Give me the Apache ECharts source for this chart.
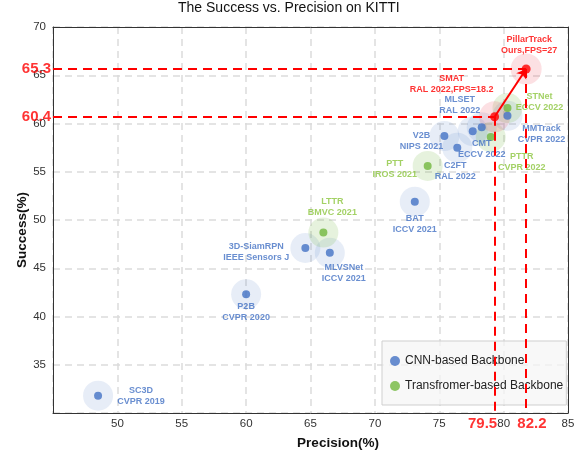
<!DOCTYPE html>
<html>
<head>
<meta charset="utf-8">
<script src="https://cdn.jsdelivr.net/npm/echarts@6/dist/echarts.min.js"></script>
<style>html,body{margin:0;padding:0;background:#fff}#c{width:578px;height:455px}</style>
</head>
<body>
<div id="c"></div>
<script>
// ---- data ----
const cnnNames = ['SC3D','P2B','3D-SiamRPN','MLVSNet','BAT','V2B','C2FT','CMT','MLSET','MMTrack'];
const cnnVenues = ['CVPR 2019','CVPR 2020','IEEE Sensors J','ICCV 2021','ICCV 2021','NIPS 2021','RAL 2022','ECCV 2022','RAL 2022','CVPR 2022'];
const cnnPrecision = [48.5, 60.0, 64.6, 66.5, 73.1, 75.4, 76.4, 77.6, 78.3, 80.3];
const cnnSuccess = [31.8, 42.3, 47.1, 46.6, 51.9, 58.7, 57.5, 59.2, 59.6, 60.8];

const trNames = ['LTTR','PTT','PTTR','STNet'];
const trVenues = ['BMVC 2021','IROS 2021','CVPR 2022','ECCV 2022'];
const trPrecision = [66.0, 74.1, 79.0, 80.3];
const trSuccess = [48.7, 55.6, 58.6, 61.6];

const oursNames = ['SMAT','PillarTrack'];
const oursVenues = ['RAL 2022,FPS=18.2','Ours,FPS=27'];
const oursPrecision = [79.3, 81.75];
const oursSuccess = [60.7, 65.65];
const oursTickX = ['79.5','82.2'];
const oursTickY = ['60.4','65.3'];

const xMin = 45, xMax = 85, xStep = 5;
const yMin = 30, yMax = 70, yStep = 5;

// ---- label placement (style) ----
const labelOffset = {
  'SC3D':[43,0], 'P2B':[0,18], '3D-SiamRPN':[-49,4], 'LTTR':[9,-26], 'MLVSNet':[14,20],
  'BAT':[0,22], 'PTT':[-33,3], 'V2B':[-23,5], 'C2FT':[-2,23], 'CMT':[9,18], 'MLSET':[-22,-22],
  'PTTR':[31,25], 'STNet':[32,-6], 'MMTrack':[34,18], 'SMAT':[-43,-33], 'PillarTrack':[3,-24]
};
const tickAlign = ['right','center'];

const BLUE = '#4472C4', GREEN = '#72b83e', GREEN_TXT = '#8cc63f', RED = '#ff0000';
const FONT = 'Liberation Sans, Arial, sans-serif';

function pts(names, venues, xs, ys, color) {
  return names.map((n, i) => ({
    name: n, value: [xs[i], ys[i]],
    label: {
      show: true, position: 'inside', offset: labelOffset[n],
      formatter: n + '\n' + venues[i], color: color,
      fontSize: 9, fontWeight: 'bold', fontFamily: FONT, lineHeight: 11,
      align: 'center', verticalAlign: 'middle'
    }
  }));
}
function halo(xs, ys) { return xs.map((x, i) => [x, ys[i]]); }

const dashStyle = {color: RED, width: 2, type: [9, 6]};
const refLines = [];
const tickLabels = [];
oursNames.forEach((n, i) => {
  const x = oursPrecision[i], y = oursSuccess[i];
  refLines.push([{coord: [x, y]}, {coord: [x, yMin]}]);
  refLines.push([{coord: [xMin, y]}, {coord: [x, y]}]);
  tickLabels.push({value: [parseFloat(oursTickX[i]), yMin], label: {formatter: oursTickX[i], position: 'bottom', distance: 3, align: tickAlign[i]}});
  tickLabels.push({value: [xMin, y], label: {formatter: oursTickY[i], position: 'left', distance: 2}});
});

const gridLine = {show: true, lineStyle: {color: '#dcdcdc', width: 1.5, type: [7, 5]}};
const frameAxis = {type: 'value', axisLine: {show: true, onZero: false, lineStyle: {color: '#333'}},
  axisTick: {show: false}, axisLabel: {show: false}, splitLine: {show: false}};

const chart = echarts.init(document.getElementById('c'), null, {renderer: 'canvas'});
chart.setOption({
  animation: false,
  textStyle: {fontFamily: FONT},
  title: {
    text: 'The Success vs. Precision on KITTI', left: 178, top: 1, padding: 0,
    textStyle: {fontSize: 14, fontWeight: 'normal', color: '#111', fontFamily: FONT}
  },
  grid: {left: 53, right: 10, top: 27, bottom: 41},
  xAxis: [{
    type: 'value', min: xMin, max: xMax, interval: xStep,
    name: 'Precision(%)', nameLocation: 'middle', nameGap: 23, nameMoveOverlap: false,
    nameTextStyle: {fontSize: 13.5, fontWeight: 'bold', color: '#111', padding: [0, 0, 0, 55]},
    axisLine: {show: true, onZero: false, lineStyle: {color: '#333'}}, axisTick: {show: false},
    axisLabel: {showMinLabel: false, fontSize: 11.5, color: '#333', margin: 5},
    splitLine: gridLine
  }, Object.assign({position: 'top', min: xMin, max: xMax, interval: xStep}, frameAxis)],
  yAxis: [{
    type: 'value', min: yMin, max: yMax, interval: yStep,
    name: 'Success(%)', nameLocation: 'middle', nameGap: 24, nameMoveOverlap: false,
    nameTextStyle: {fontSize: 13.5, fontWeight: 'bold', color: '#111', padding: [0, 20, 0, 0]},
    axisLine: {show: true, onZero: false, lineStyle: {color: '#333'}}, axisTick: {show: false},
    axisLabel: {showMinLabel: false, fontSize: 11.5, color: '#333', margin: 7},
    splitLine: gridLine
  }, Object.assign({position: 'right', min: yMin, max: yMax, interval: yStep}, frameAxis)],
  legend: {
    data: ['CNN-based Backbone', 'Transfromer-based Backbone'],
    orient: 'vertical', left: 382, top: 341, icon: 'circle', itemWidth: 10, itemHeight: 10, itemGap: 13,
    padding: [14, 3, 13, 8], backgroundColor: 'rgba(246,246,246,0.75)', borderColor: '#cfcfcf', borderWidth: 1,
    textStyle: {fontSize: 12, color: '#222', fontFamily: FONT}
  },
  series: [
    {type: 'scatter', name: 'cnnHalo', silent: true, z: 1, symbolSize: 30,
     itemStyle: {color: 'rgba(68,114,196,0.16)'}, data: halo(cnnPrecision, cnnSuccess)},
    {type: 'scatter', name: 'trHalo', silent: true, z: 1, symbolSize: 30,
     itemStyle: {color: 'rgba(114,184,62,0.22)'}, data: halo(trPrecision, trSuccess)},
    {type: 'scatter', name: 'oursHalo', silent: true, z: 1, symbolSize: 31,
     itemStyle: {color: 'rgba(235,60,80,0.2)'}, data: halo(oursPrecision, oursSuccess),
     markLine: {silent: true, symbol: 'none', label: {show: false}, lineStyle: dashStyle, data: refLines}},
    {type: 'scatter', name: 'CNN-based Backbone', z: 3, symbolSize: 8, itemStyle: {color: BLUE},
     data: pts(cnnNames, cnnVenues, cnnPrecision, cnnSuccess, BLUE)},
    {type: 'scatter', name: 'Transfromer-based Backbone', z: 3, symbolSize: 8, itemStyle: {color: GREEN},
     data: pts(trNames, trVenues, trPrecision, trSuccess, GREEN_TXT)},
    {type: 'scatter', name: 'ours', z: 4, symbolSize: 9, itemStyle: {color: RED},
     data: pts(oursNames, oursVenues, oursPrecision, oursSuccess, RED),
     markLine: {silent: true, symbol: ['none', 'arrow'], symbolSize: 9, label: {show: false},
       lineStyle: {color: RED, width: 2, type: 'solid'},
       data: [[{coord: [oursPrecision[0], oursSuccess[0]]}, {coord: [oursPrecision[1], oursSuccess[1]]}]]}},
    {type: 'scatter', name: 'ticks', silent: true, z: 5, symbolSize: 0, clip: false,
     label: {show: true, color: RED, fontSize: 15, fontWeight: 'bold', fontFamily: FONT},
     data: tickLabels}
  ]
});
</script>
</body>
</html>
